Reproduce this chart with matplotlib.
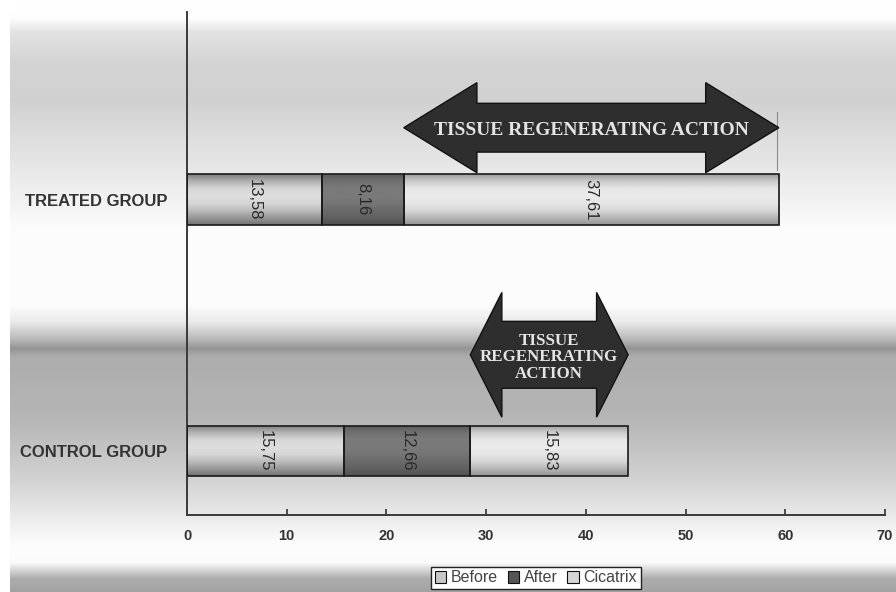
import numpy as np
import matplotlib
matplotlib.use("Agg")
import matplotlib.pyplot as plt
from matplotlib.patches import Polygon, Patch

# ---- data ----
groups = ["CONTROL GROUP", "TREATED GROUP"]
series_names = ["Before", "After", "Cicatrix"]
before = [15.75, 13.58]
after = [12.66, 8.16]
cicatrix = [15.83, 37.61]
value_labels = [["15,75", "12,66", "15,83"], ["13,58", "8,16", "37,61"]]
xticks = [0, 10, 20, 30, 40, 50, 60, 70]
arrow_text = ["TISSUE\nREGENERATING\nACTION", "TISSUE REGENERATING ACTION"]

W, H, DPI = 896, 592, 100
fig = plt.figure(figsize=(W / DPI, H / DPI), dpi=DPI)
fig.patch.set_facecolor("white")

# ---- banded grey backdrop ----
yy = np.arange(H)
pts_y = [0, 18, 32, 60, 100, 140, 190, 232, 305, 322, 340, 348, 356, 420, 480, 520, 545, 562, 578, 592]
pts_v = [255, 252, 226, 212, 208, 222, 238, 252, 252, 232, 180, 148, 172, 182, 210, 236, 252, 250, 172, 162]
col = np.interp(yy, pts_y, pts_v)
bg = np.tile(col[:, None], (1, W))
bg[:, :10] = 255
bg_ax = fig.add_axes([0, 0, 1, 1], zorder=-5)
bg_ax.imshow(bg, cmap="gray", vmin=0, vmax=255, aspect="auto", interpolation="bilinear")
bg_ax.axis("off")

# ---- main axes ----
ax = fig.add_axes([187 / W, 77 / H, 698 / W, 503 / H])
ax.set_facecolor("none")

ypos = np.arange(len(groups))
bar_h = 0.2
shades = {
    "Before": [0.50, 0.70, 0.84, 0.87, 0.84, 0.74, 0.60, 0.45],
    "After": [0.36, 0.44, 0.48, 0.48, 0.46, 0.42, 0.38, 0.32],
    "Cicatrix": [0.62, 0.80, 0.90, 0.92, 0.90, 0.84, 0.72, 0.58],
}

left = np.zeros(len(groups))
for name, vals in zip(series_names, [before, after, cicatrix]):
    bars = ax.barh(ypos, vals, left=left, height=bar_h, color="none",
                   edgecolor="#1a1a1a", linewidth=1.2, zorder=3)
    prof = np.interp(np.linspace(0, 1, 64), np.linspace(0, 1, len(shades[name])), shades[name])
    for b in bars:
        x0, y0 = b.get_x(), b.get_y()
        im = ax.imshow(prof[:, None], cmap="gray", vmin=0, vmax=1, aspect="auto",
                       extent=[x0, x0 + b.get_width(), y0, y0 + b.get_height()],
                       interpolation="bilinear", zorder=2)
        im.set_clip_path(b)
    left = left + np.array(vals)

# segment value labels, rotated
cum = np.zeros(len(groups))
for k, vals in enumerate([before, after, cicatrix]):
    for i in range(len(groups)):
        ax.text(cum[i] + vals[i] / 2, ypos[i], value_labels[i][k], rotation=-90,
                ha="center", va="center", fontsize=12, color="#2a2a2a",
                family="Liberation Sans", zorder=5)
    cum = cum + np.array(vals)

# double-headed arrows spanning the regenerating part (end of "After" to total)
arrow_style = [
    dict(yc=0.383, head=0.248, body=0.133, fs=12.2, hl=0.2),
    dict(yc=1.286, head=0.179, body=0.097, fs=14, hl=0.195),
]
for i in range(len(groups)):
    x_start = before[i] + after[i]
    x_end = before[i] + after[i] + cicatrix[i]
    st = arrow_style[i]
    hl = st["hl"] * (x_end - x_start)
    yc, hh, bh = st["yc"], st["head"], st["body"]
    verts = [
        (x_start, yc), (x_start + hl, yc + hh), (x_start + hl, yc + bh),
        (x_end - hl, yc + bh), (x_end - hl, yc + hh), (x_end, yc),
        (x_end - hl, yc - hh), (x_end - hl, yc - bh), (x_start + hl, yc - bh),
        (x_start + hl, yc - hh),
    ]
    ax.add_patch(Polygon(verts, closed=True, facecolor="#2e2e2e", edgecolor="#111111",
                         linewidth=1.0, zorder=6))
    ax.text((x_start + x_end) / 2, yc - 0.01, arrow_text[i], ha="center", va="center",
            fontsize=st["fs"], fontweight="bold", family="Liberation Serif",
            color="#e4e4e4", linespacing=1.05, zorder=7)
    if i == 1:
        ax.plot([x_end - 0.2, x_end - 0.2], [yc - 0.167, yc + 0.063], color="#8a8a8a",
                linewidth=0.8, zorder=5)

# ---- axes styling ----
ax.set_xlim(0, 70)
ax.set_ylim(-0.254, 1.746)
ax.set_xticks(xticks)
ax.set_xticklabels([str(t) for t in xticks], fontsize=10.5, fontweight="bold",
                   color="#333333", family="Liberation Sans")
ax.set_yticks(ypos)
ax.set_yticklabels(groups, fontsize=12, fontweight="bold", color="#333333",
                   family="Liberation Sans")
ax.tick_params(axis="x", direction="in", length=4, width=1.2, color="#333333", pad=10)
ax.tick_params(axis="y", length=0, pad=14)
for s in ["top", "right"]:
    ax.spines[s].set_visible(False)
for s in ["left", "bottom"]:
    ax.spines[s].set_color("#3a3a3a")
    ax.spines[s].set_linewidth(1.4)

# ---- legend ----
handles = [Patch(facecolor=c, edgecolor="#111111", linewidth=0.8)
           for c in ["#c8c8c8", "#555555", "#d6d6d6"]]
leg = fig.legend(handles, series_names, loc="center", bbox_to_anchor=(536 / W, 14 / H),
                 ncol=3, frameon=True, fancybox=False, edgecolor="#222222",
                 facecolor="white", framealpha=1, handlelength=0.7,
                 handleheight=0.7, handletextpad=0.3, columnspacing=0.6, borderpad=0.25,
                 prop={"family": "Liberation Sans", "size": 11.5})
for t in leg.get_texts():
    t.set_color("#444444")
leg.get_frame().set_linewidth(1.0)

fig.savefig("out.png", dpi=DPI)
